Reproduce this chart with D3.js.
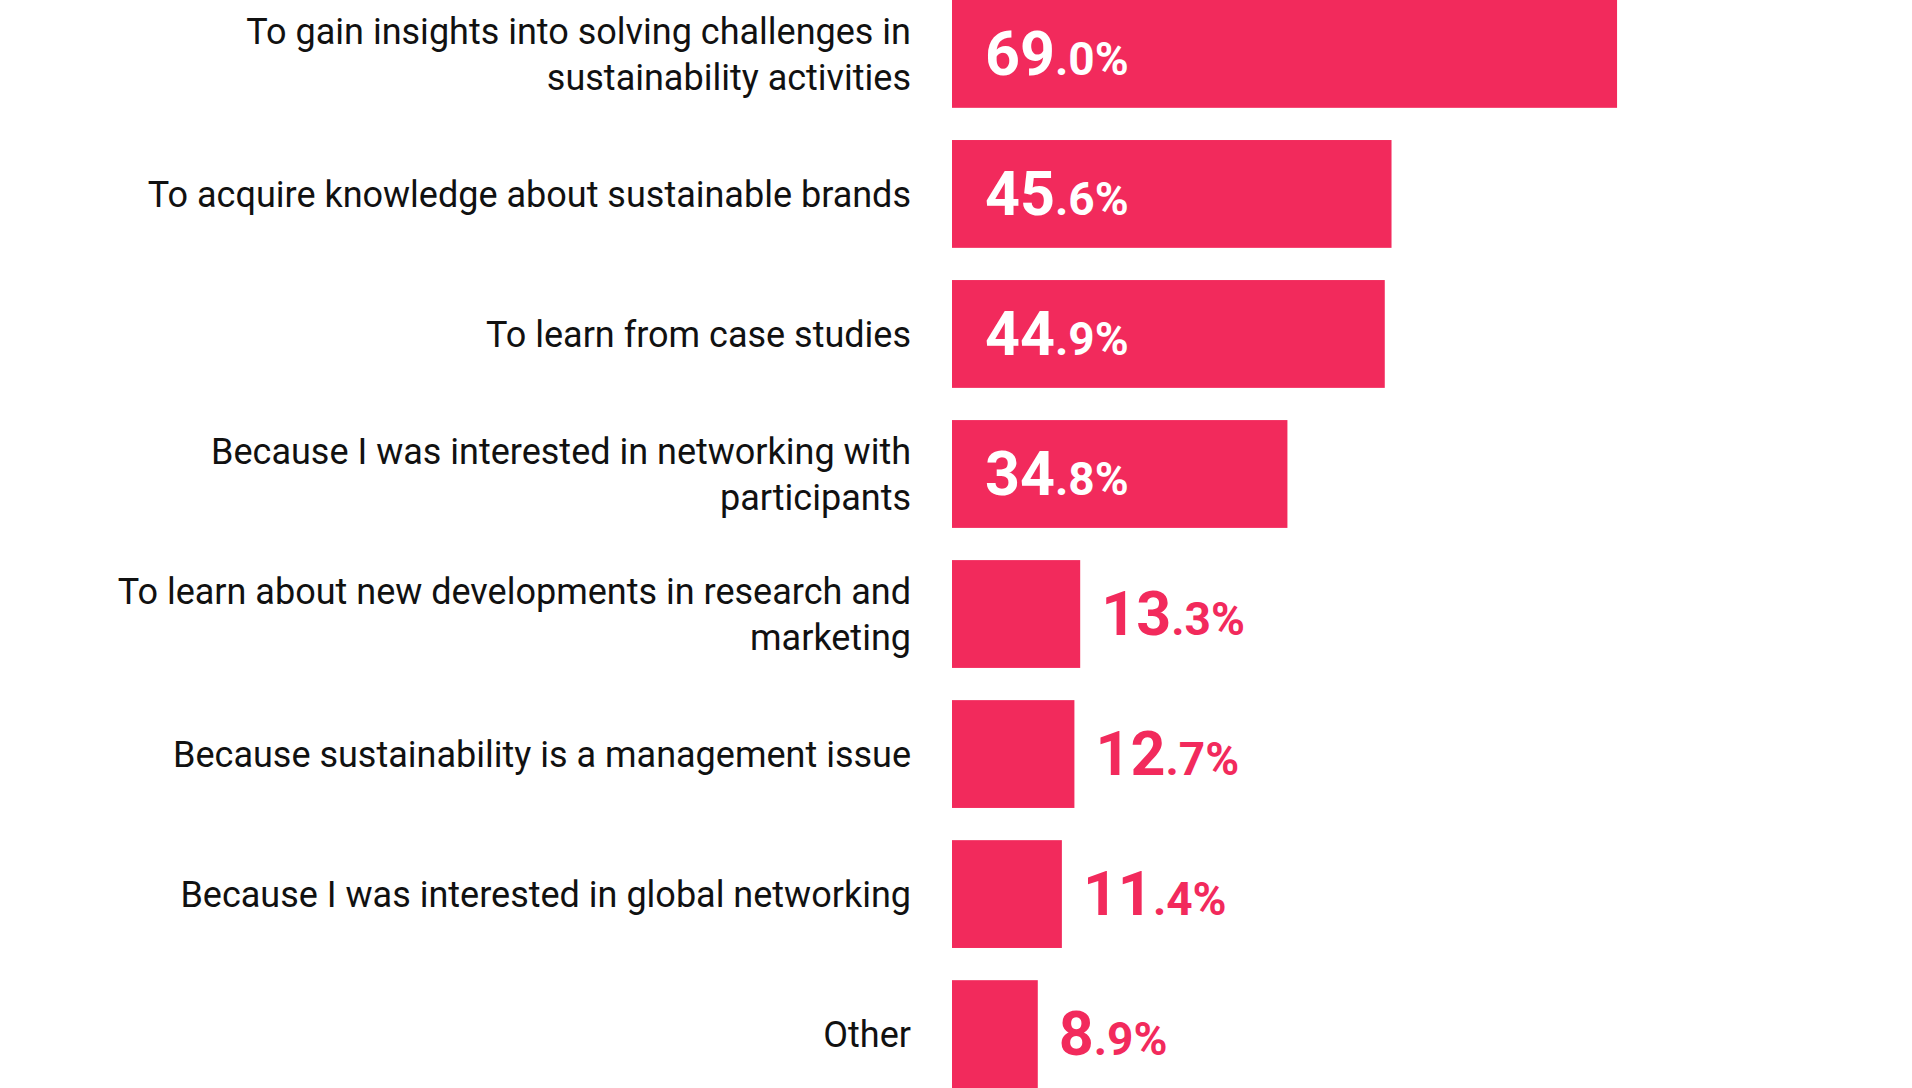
<!DOCTYPE html>
<html lang="en">
<head>
<meta charset="UTF-8" />
<title>Reasons for attending</title>
<script src="https://d3js.org/d3.v7.min.js"></script>
<style>
    html, body {
        margin: 0;
        padding: 0;
        background: #fff;
    }
    svg {
        display: block;
        font-family: Roboto, 'Open Sans', sans-serif;
    }
    .cat {
        font-size: 36px;
        fill: #111;
    }
    .val {
        font-weight: 700;
    }
</style>
</head>
<body>
<svg width="1912" height="1088"></svg>
<script>

// data
var categories = [
    "To gain insights into solving challenges in sustainability activities",
    "To acquire knowledge about sustainable brands",
    "To learn from case studies",
    "Because I was interested in networking with participants",
    "To learn about new developments in research and marketing",
    "Because sustainability is a management issue",
    "Because I was interested in global networking",
    "Other"
];
var values = [69.0, 45.6, 44.9, 34.8, 13.3, 12.7, 11.4, 8.9];

var barColor = "#f22a5c";

var svg = d3.select("svg"),
    width = +svg.attr("width"),
    height = +svg.attr("height"),
    barLeft = 952;

var data = categories.map(function(c, i) { return {cat: c, value: values[i]}; });

var y = d3.scaleBand()
    .domain(categories)
    .range([0, height])
    .paddingInner(0.23)
    .paddingOuter(0);

var x = d3.scaleLinear()
    .domain([0, 99.6])
    .range([barLeft, width]);

// bars
svg.append("g")
    .selectAll("rect")
    .data(data)
    .enter().append("rect")
        .attr("x", x(0))
        .attr("y", function(d) { return y(d.cat); })
        .attr("width", function(d) { return x(d.value) - x(0); })
        .attr("height", y.bandwidth())
        .attr("fill", barColor);

// category labels, wrapped to fit left of the bars
var labelRight = barLeft - 41;

var cats = svg.append("g")
    .selectAll("text")
    .data(data)
    .enter().append("text")
        .attr("class", "cat")
        .attr("text-anchor", "end")
        .attr("x", labelRight);

cats.each(function(d) {
    var text = d3.select(this),
        words = d.cat.split(" "),
        lines = [],
        line = [],
        maxW = 830;
    var probe = text.append("tspan");
    words.forEach(function(w) {
        line.push(w);
        probe.text(line.join(" "));
        if (probe.node().getComputedTextLength() > maxW && line.length > 1) {
            line.pop();
            lines.push(line.join(" "));
            line = [w];
        }
    });
    lines.push(line.join(" "));
    probe.remove();

    var lh = 46,
        cy = y(d.cat) + y.bandwidth() / 2,
        first = cy - (lines.length - 1) * lh / 2;
    lines.forEach(function(l, i) {
        text.append("tspan")
            .attr("x", labelRight)
            .attr("y", first + i * lh)
            .attr("dy", "0.35em")
            .text(l);
    });
});

// value labels: big integer part, smaller decimals
var inside = function(d) { return d.value >= 30; };

var vals = svg.append("g")
    .selectAll("text")
    .data(data)
    .enter().append("text")
        .attr("class", "val")
        .attr("x", function(d) { return inside(d) ? x(0) + 33 : x(d.value) + 21; })
        .attr("y", function(d) { return y(d.cat) + y.bandwidth() / 2 + 21; })
        .attr("fill", function(d) { return inside(d) ? "#fff" : barColor; });

vals.append("tspan")
    .attr("font-size", 61)
    .text(function(d) { return d3.format(".1f")(d.value).split(".")[0]; });

vals.append("tspan")
    .attr("font-size", 46)
    .text(function(d) { return "." + d3.format(".1f")(d.value).split(".")[1] + "%"; });

</script>
</body>
</html>
